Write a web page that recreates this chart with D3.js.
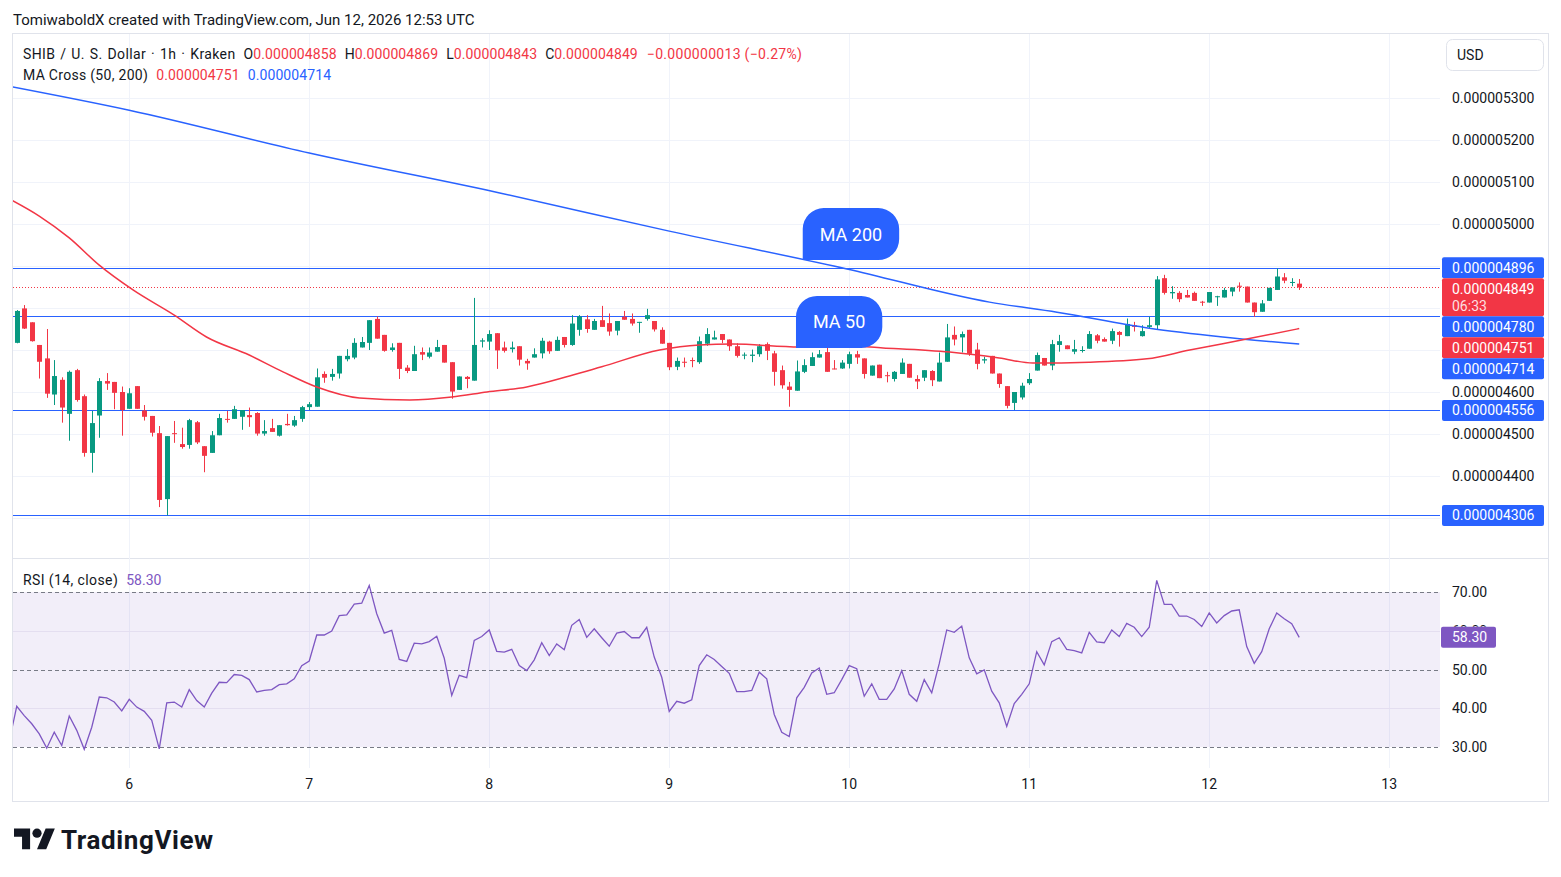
<!DOCTYPE html>
<meta charset="utf-8">
<style>
body { margin: 0; background: #fff; }
svg { display: block; font-family: Roboto, "Noto Sans", Arial, sans-serif; }
</style>
<body>
<svg width="1561" height="877"></svg>
<script src="https://cdn.jsdelivr.net/npm/d3@7"></script>
<script>
// SHIB/USD 1h candles, prices in units of 1e-9 USD, first candle = Jun 5 2026 09:00 UTC
var opens = [4717,4799,4766,4712,4680,4594,4629,4548,4652,4590,4455,4544,4626,4624,4600,4560,4614,4556,4543,4502,
  4345,4502,4476,4474,4528,4471,4455,4497,4536,4536,4541,4545,4550,4501,4514,4496,4524,4520,4536,4564,
  4565,4643,4636,4644,4678,4682,4706,4717,4774,4736,4700,4717,4658,4650,4695,4684,4696,4712,4671,4605,
  4636,4627,4720,4720,4740,4706,4702,4709,4674,4682,4692,4720,4698,4731,4712,4748,4773,4748,4771,4764,
  4746,4779,4774,4765,4774,4769,4748,4717,4660,4672,4676,4671,4715,4725,4738,4725,4709,4687,4686,4690,
  4714,4692,4652,4613,4603,4648,4662,4682,4695,4656,4656,4667,4690,4680,4639,4665,4640,4631,4643,4667,
  4631,4634,4650,4625,4672,4736,4730,4748,4701,4675,4686,4644,4614,4574,4587,4621,4651,4681,4663,4712,
  4711,4696,4698,4703,4735,4726,4722,4743,4733,4759,4733,4755,4759,4871,4835,4836,4831,4836,4815,4813,
  4826,4825,4839,4853,4851,4813,4791,4817,4843,4873,4861,4858];
var highs = [4795,4807,4766,4712,4750,4676,4635,4651,4655,4594,4555,4633,4645,4624,4613,4609,4614,4569,4543,4519,
  4495,4531,4515,4536,4531,4471,4507,4548,4555,4567,4557,4563,4552,4533,4536,4521,4548,4543,4567,4576,
  4656,4649,4655,4686,4702,4728,4731,4771,4780,4736,4716,4717,4664,4710,4706,4706,4724,4712,4671,4637,
  4638,4824,4728,4747,4740,4720,4720,4709,4679,4704,4729,4722,4732,4731,4783,4783,4783,4774,4805,4787,
  4769,4793,4787,4767,4798,4769,4754,4717,4682,4682,4682,4732,4752,4746,4738,4725,4716,4694,4701,4714,
  4718,4698,4663,4624,4675,4678,4694,4700,4705,4676,4676,4696,4698,4680,4663,4665,4648,4650,4680,4667,
  4640,4652,4652,4694,4762,4756,4744,4748,4717,4684,4686,4644,4614,4600,4622,4645,4694,4681,4724,4736,
  4711,4724,4709,4745,4738,4730,4751,4745,4775,4767,4759,4779,4876,4879,4852,4840,4843,4839,4817,4838,
  4829,4848,4849,4861,4851,4813,4819,4848,4894,4883,4871,4869];
var lows = [4716,4750,4720,4632,4586,4569,4527,4484,4577,4446,4408,4491,4605,4559,4496,4560,4560,4532,4494,4326,
  4306,4479,4465,4465,4476,4409,4455,4497,4527,4536,4510,4517,4496,4496,4505,4494,4520,4517,4529,4557,
  4565,4622,4627,4632,4673,4678,4706,4700,4727,4696,4696,4631,4645,4650,4676,4680,4696,4670,4584,4605,
  4609,4627,4706,4700,4655,4694,4694,4663,4653,4682,4680,4691,4698,4706,4710,4734,4741,4748,4755,4734,
  4735,4772,4758,4741,4770,4744,4715,4652,4652,4659,4659,4667,4710,4725,4716,4698,4682,4678,4671,4684,
  4676,4615,4608,4565,4603,4645,4662,4682,4648,4654,4655,4656,4667,4632,4639,4633,4623,4625,4643,4634,
  4607,4626,4614,4625,4672,4711,4694,4686,4654,4668,4644,4610,4561,4557,4582,4617,4651,4663,4652,4696,
  4702,4690,4694,4703,4716,4720,4714,4708,4733,4744,4732,4752,4749,4832,4822,4814,4825,4817,4805,4813,
  4805,4825,4828,4839,4813,4779,4791,4817,4843,4859,4852,4843];
var closes = [4793,4751,4721,4672,4596,4638,4563,4648,4581,4455,4526,4626,4620,4598,4557,4597,4560,4541,4503,4343,
  4495,4500,4469,4533,4480,4448,4497,4538,4534,4559,4557,4540,4501,4507,4505,4521,4521,4533,4564,4571,
  4635,4634,4643,4686,4686,4717,4719,4771,4727,4698,4706,4655,4650,4690,4689,4694,4707,4670,4601,4637,
  4631,4712,4723,4738,4699,4698,4706,4677,4668,4690,4722,4697,4724,4712,4763,4780,4750,4769,4755,4744,
  4769,4772,4763,4767,4783,4749,4715,4659,4674,4670,4674,4721,4738,4730,4724,4709,4686,4689,4689,4709,
  4698,4648,4616,4605,4649,4664,4683,4690,4648,4654,4670,4690,4682,4643,4663,4633,4638,4648,4670,4634,
  4625,4652,4628,4670,4730,4725,4738,4691,4667,4678,4644,4619,4567,4600,4615,4631,4688,4663,4714,4721,
  4702,4702,4700,4738,4722,4720,4745,4736,4762,4755,4745,4759,4868,4836,4838,4821,4825,4817,4813,4838,
  4828,4843,4849,4851,4813,4790,4811,4848,4875,4865,4862,4849];

// moving averages: [candle index, value]
var ma50Idx = [-1,3,7,11,15.5,21,25.3,31,35.5,40,45.7,52.4,58,62.7,68,73.7,78,85.7,91,95.5,104.4,110,115.5,124.4,131,135.5,143,150.7,156.4,164,171];
var ma50Val = [5060,5019,4967,4902,4843,4783,4731,4688,4648,4612,4586,4581,4588,4600,4612,4638,4660,4700,4712,4714,4707,4710,4705,4695,4681,4669,4671,4679,4700,4726,4751];
var ma200Idx = [-1,15,39,64.4,87,110.7,129.7,138.7,151,160.8,171];
var ma200Val = [5328,5271,5169,5074,4983,4893,4814,4790,4752,4731,4714];

// RSI(14), first value is candle -1
var rsi = [31.5,40.5,38.1,36.0,33.4,29.7,33.8,30.4,38.0,34.3,29.4,35.1,42.9,42.7,41.6,39.3,42.3,40.3,39.2,36.9,
  29.5,41.4,41.6,40.3,44.8,42.0,40.3,43.9,46.7,46.6,48.7,48.5,47.4,44.2,44.6,44.8,46.1,46.3,47.6,51.0,
  52.2,58.9,58.9,59.9,63.9,64.1,66.9,67.1,71.7,64.4,59.4,60.1,52.6,52.1,56.8,56.6,57.2,58.6,52.9,43.3,
  48.5,47.9,57.5,58.5,60.2,54.7,54.5,55.2,51.0,49.7,52.5,56.9,53.6,56.6,55.1,61.4,62.9,58.3,60.5,58.2,
  56.0,59.4,59.8,58.2,58.2,60.9,53.2,48.0,39.2,41.8,41.3,42.2,51.0,53.8,52.6,50.8,49.0,44.3,44.3,44.6,
  49.3,47.6,38.4,33.8,32.7,42.7,45.4,49.1,50.4,43.6,44.0,47.4,51.0,50.2,43.1,46.3,42.3,42.3,45.0,49.7,
  43.6,41.8,47.4,44.0,51.5,60.2,59.6,61.2,53.0,48.9,49.9,44.4,41.4,35.3,41.2,43.6,46.3,54.6,51.2,57.2,
  58.2,55.2,54.9,54.3,59.6,57.1,56.9,60.2,58.5,61.9,60.9,58.5,60.9,73.0,66.8,66.8,63.8,63.8,62.9,61.1,
  64.6,62.0,63.9,65.1,65.4,55.9,51.6,54.6,60.5,64.6,63.1,61.8,58.3];

// drawn horizontal levels
var levels = [4896, 4780, 4556, 4306];
var priceTicks = [4300,4400,4500,4600,4700,4800,4900,5000,5100,5200,5300];
var rsiTicks = [30,40,50,60,70];
var annLabels = ["MA 200", "MA 50"];
var annIdx = [104.8, 103.9];
var annVal = [4914, 4705];

var blue = "#2962ff", red = "#f23645", green = "#089981", purple = "#7e57c2", ink = "#131722";
var left = 13, plotRight = 1440, frameRight = 1548;
var mainTop = 34, mainBottom = 558, rsiTop = 559, rsiBottom = 768;

var t0 = Date.UTC(2026, 5, 5, 9);
function t(i) { return new Date(t0 + i * 3600e3); }

var svg = d3.select("svg");
var x = d3.scaleUtc().domain([t(-0.5), t(189.77)]).range([left, plotRight]);
var y = d3.scaleLinear().domain([4300, 5300]).range([518, 98]);
var yr = d3.scaleLinear().domain([30, 70]).range([747, 592]);
var fmt = function(v) { return d3.format(".9f")(v * 1e-9); };

var defs = svg.append("defs");
defs.append("clipPath").attr("id", "clipMain").append("rect")
    .attr("x", left).attr("y", mainTop).attr("width", plotRight - left).attr("height", mainBottom - mainTop);
defs.append("clipPath").attr("id", "clipRsi").append("rect")
    .attr("x", left).attr("y", rsiTop).attr("width", plotRight - left).attr("height", rsiBottom - rsiTop);

// frame
svg.append("rect").attr("x", 12.5).attr("y", 33.5).attr("width", frameRight - 12).attr("height", 768)
    .attr("fill", "none").attr("stroke", "#e0e3eb");
svg.append("line").attr("x1", 12).attr("x2", frameRight).attr("y1", 558.5).attr("y2", 558.5).attr("stroke", "#e0e3eb");

// grid
var days = x.ticks(d3.utcDay.every(1));
svg.append("g").selectAll("line").data(days).enter().append("line")
    .attr("x1", function(d) { return Math.round(x(d)) + 0.5; })
    .attr("x2", function(d) { return Math.round(x(d)) + 0.5; })
    .attr("y1", mainTop).attr("y2", rsiBottom)
    .attr("stroke", "#f0f3fa");
svg.append("g").selectAll("line").data(priceTicks).enter().append("line")
    .attr("x1", left).attr("x2", plotRight)
    .attr("y1", function(d) { return Math.round(y(d)) + 0.5; })
    .attr("y2", function(d) { return Math.round(y(d)) + 0.5; })
    .attr("stroke", "#f0f3fa");

// RSI background and bands
svg.append("rect").attr("x", left).attr("width", plotRight - left)
    .attr("y", yr(70)).attr("height", yr(30) - yr(70))
    .attr("fill", purple).attr("fill-opacity", 0.1);
svg.append("g").selectAll("line").data([40, 60]).enter().append("line")
    .attr("x1", left).attr("x2", plotRight)
    .attr("y1", function(d) { return Math.round(yr(d)) + 0.5; })
    .attr("y2", function(d) { return Math.round(yr(d)) + 0.5; })
    .attr("stroke", "#e4def0");
svg.append("g").selectAll("line").data([30, 50, 70]).enter().append("line")
    .attr("x1", left).attr("x2", plotRight)
    .attr("y1", function(d) { return Math.round(yr(d)) + 0.5; })
    .attr("y2", function(d) { return Math.round(yr(d)) + 0.5; })
    .attr("stroke", "#787b86").attr("stroke-dasharray", "4,3");

var main = svg.append("g").attr("clip-path", "url(#clipMain)");

// horizontal levels
main.selectAll(".lvl").data(levels).enter().append("line")
    .attr("x1", left).attr("x2", plotRight)
    .attr("y1", function(d) { return Math.round(y(d)) + 0.5; })
    .attr("y2", function(d) { return Math.round(y(d)) + 0.5; })
    .attr("stroke", blue).attr("stroke-width", 1);

var last = closes.length - 1;
main.append("line").attr("x1", left).attr("x2", plotRight)
    .attr("y1", Math.round(y(closes[last])) + 0.5).attr("y2", Math.round(y(closes[last])) + 0.5)
    .attr("stroke", red).attr("stroke-dasharray", "1,2");

// candles
var bodyW = Math.round((x(t(1)) - x(t(0))) * 0.66);
var candles = main.append("g").selectAll("g").data(d3.range(closes.length)).enter().append("g")
    .attr("fill", function(i) { return closes[i] >= opens[i] ? green : red; })
    .attr("stroke", function(i) { return closes[i] >= opens[i] ? green : red; });
candles.append("line")
    .attr("x1", function(i) { return Math.round(x(t(i))) + 0.5; })
    .attr("x2", function(i) { return Math.round(x(t(i))) + 0.5; })
    .attr("y1", function(i) { return y(highs[i]); })
    .attr("y2", function(i) { return y(lows[i]); });
candles.append("rect")
    .attr("stroke", "none")
    .attr("x", function(i) { return Math.round(x(t(i))) - (bodyW - 1) / 2; })
    .attr("width", bodyW)
    .attr("y", function(i) { return y(Math.max(opens[i], closes[i])); })
    .attr("height", function(i) { return Math.max(1, Math.abs(y(opens[i]) - y(closes[i]))); });

// moving averages
var maLine = d3.line().curve(d3.curveMonotoneX)
    .x(function(d) { return x(t(d[0])); })
    .y(function(d) { return y(d[1]); });
main.append("path").datum(d3.zip(ma200Idx, ma200Val)).attr("d", maLine)
    .attr("fill", "none").attr("stroke", blue).attr("stroke-width", 1.5);
main.append("path").datum(d3.zip(ma50Idx, ma50Val)).attr("d", maLine)
    .attr("fill", "none").attr("stroke", red).attr("stroke-width", 1.5);

// annotation bubbles (square bottom-left corner sits on the line)
annLabels.forEach(function(label, k) {
  var ax = x(t(annIdx[k])), ay = y(annVal[k]);
  var g = svg.append("g");
  var txt = g.append("text").text(label).attr("font-size", 18).attr("fill", "#fff")
      .attr("text-anchor", "middle");
  var w = txt.node().getComputedTextLength() + 34, h = 52, r = 21;
  g.insert("path", "text")
      .attr("d", "M" + ax + "," + ay + "V" + (ay - h + r) +
        "A" + r + "," + r + " 0 0 1 " + (ax + r) + "," + (ay - h) +
        "H" + (ax + w - r) +
        "A" + r + "," + r + " 0 0 1 " + (ax + w) + "," + (ay - h + r) +
        "V" + (ay - r) +
        "A" + r + "," + r + " 0 0 1 " + (ax + w - r) + "," + ay + "Z")
      .attr("fill", blue);
  txt.attr("x", ax + w / 2).attr("y", ay - h / 2 + 6.5);
});

// RSI line
svg.append("path").attr("clip-path", "url(#clipRsi)")
    .datum(rsi)
    .attr("d", d3.line().x(function(d, i) { return x(t(i - 1)); }).y(function(d) { return yr(d); }))
    .attr("fill", "none").attr("stroke", purple).attr("stroke-width", 1.3);

// price scale boxes, stacked so they don't overlap
var boxes = [
  {v: levels[0], c: blue, lines: [fmt(levels[0])]},
  {v: closes[last], c: red, lines: [fmt(closes[last]), "06:33"]},
  {v: levels[1], c: blue, lines: [fmt(levels[1])]},
  {v: ma50Val[ma50Val.length - 1], c: red, lines: [fmt(ma50Val[ma50Val.length - 1])]},
  {v: ma200Val[ma200Val.length - 1], c: blue, lines: [fmt(ma200Val[ma200Val.length - 1])]},
  {v: levels[2], c: blue, lines: [fmt(levels[2])]},
  {v: levels[3], c: blue, lines: [fmt(levels[3])]}
];
var prevBottom = -Infinity;
boxes.forEach(function(b) {
  b.h = b.lines.length > 1 ? 38 : 21;
  b.top = Math.max(y(b.v) - 10.5, prevBottom);
  prevBottom = b.top + b.h;
});

var axisG = svg.append("g").attr("font-size", 14).attr("fill", ink);
priceTicks.forEach(function(v) {
  var py = y(v);
  var hidden = boxes.some(function(b) { return py + 7 > b.top && py - 7 < b.top + b.h; });
  if (!hidden) axisG.append("text").attr("x", 1452).attr("y", py + 5).text(fmt(v));
});
boxes.forEach(function(b) {
  svg.append("rect").attr("x", 1442).attr("y", b.top).attr("width", 102).attr("height", b.h)
      .attr("rx", 2).attr("fill", b.c);
  b.lines.forEach(function(s, j) {
    svg.append("text").attr("x", 1452).attr("y", b.top + 15.5 + j * 17).attr("font-size", 14)
        .attr("fill", "#fff").attr("fill-opacity", j ? 0.85 : 1).text(s);
  });
});

// RSI scale: the 60.00 label sits under the value box, as in TradingView
var rsiLast = rsi[rsi.length - 1];
rsiTicks.forEach(function(v) {
  var ty = yr(v);
  var g = axisG.append("text").attr("x", 1452).attr("y", ty + 5).text(d3.format(".2f")(v));
  if (Math.abs(ty - yr(rsiLast)) < 18) g.attr("clip-path", "url(#clipRsiTick)");
});
defs.append("clipPath").attr("id", "clipRsiTick").append("rect")
    .attr("x", 1441).attr("y", 560).attr("width", 100).attr("height", yr(rsiLast) - 10.5 - 560);
svg.append("rect").attr("x", 1441).attr("y", yr(rsiLast) - 10.5).attr("width", 55).attr("height", 21)
    .attr("rx", 2).attr("fill", purple);
svg.append("text").attr("x", 1452).attr("y", yr(rsiLast) + 5).attr("font-size", 14).attr("fill", "#fff")
    .text(d3.format(".2f")(rsiLast));

// time axis
svg.append("g").selectAll("text").data(days).enter().append("text")
    .attr("x", function(d) { return x(d); }).attr("y", 789)
    .attr("text-anchor", "middle").attr("font-size", 14).attr("fill", ink)
    .text(d3.utcFormat("%-d"));

// USD button
svg.append("rect").attr("x", 1446.5).attr("y", 39.5).attr("width", 97).attr("height", 31).attr("rx", 6)
    .attr("fill", "#fff").attr("stroke", "#e0e3eb");
svg.append("text").attr("x", 1457).attr("y", 60).attr("font-size", 14).attr("fill", ink).text("USD");

// header and legends
svg.append("text").attr("x", 13).attr("y", 25).attr("font-size", 15).attr("fill", ink)
    .text("TomiwaboldX created with TradingView.com, Jun 12, 2026 12:53 UTC");

var chg = closes[last] - closes[last - 1];
var leg = svg.append("text").attr("x", 23).attr("y", 59).attr("font-size", 14).attr("fill", ink);
leg.append("tspan").attr("letter-spacing", 0.4).attr("word-spacing", 1).text("SHIB / U. S. Dollar · 1h · Kraken");
[["O", opens[last]], ["H", highs[last]], ["L", lows[last]], ["C", closes[last]]].forEach(function(p) {
  leg.append("tspan").attr("dx", 8).text(p[0]);
  leg.append("tspan").attr("fill", red).attr("letter-spacing", 0.1).text(fmt(p[1]));
});
leg.append("tspan").attr("dx", 9).attr("fill", red).attr("letter-spacing", 0.3)
    .text(fmt(chg).replace("-", "\u2212") + " (" + d3.format(".2f")(chg / closes[last - 1] * 100).replace("-", "\u2212") + "%)");

var leg2 = svg.append("text").attr("x", 23).attr("y", 80).attr("font-size", 14).attr("fill", ink);
leg2.append("tspan").attr("letter-spacing", 0.3).text("MA Cross (50, 200)");
leg2.append("tspan").attr("dx", 8).attr("fill", red).attr("letter-spacing", 0.1).text(fmt(ma50Val[ma50Val.length - 1]));
leg2.append("tspan").attr("dx", 8).attr("fill", blue).attr("letter-spacing", 0.1).text(fmt(ma200Val[ma200Val.length - 1]));

var leg3 = svg.append("text").attr("x", 23).attr("y", 585).attr("font-size", 14).attr("fill", ink);
leg3.append("tspan").attr("letter-spacing", 0.4).text("RSI (14, close)");
leg3.append("tspan").attr("dx", 8).attr("fill", purple).text(d3.format(".2f")(rsiLast));

// TradingView logo
var logo = svg.append("g").attr("transform", "translate(14,824) scale(1.15)").attr("fill", ink);
logo.append("path").attr("d", "M14 22H7V11H0V4h14v18zM28 22h-8l7.5-18h8L28 22z");
logo.append("circle").attr("cx", 20).attr("cy", 8).attr("r", 4);
svg.append("text").attr("x", 61).attr("y", 849).attr("font-size", 26).attr("font-weight", 700)
    .attr("letter-spacing", 0.6).attr("fill", ink).text("TradingView");
</script>
</body>
